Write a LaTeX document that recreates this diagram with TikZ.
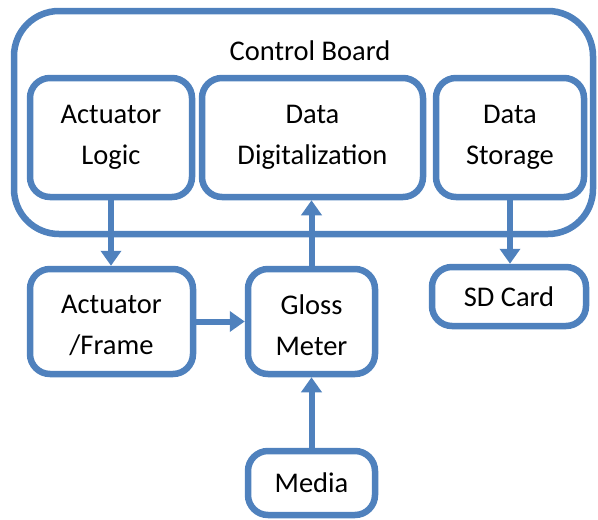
\documentclass[tikz,border=0pt]{standalone}
\usepackage{fontspec}
\setmainfont{Carlito}
\usetikzlibrary{arrows.meta}
\definecolor{boxblue}{HTML}{4F81BD}
\newcommand{\topstrut}{\rule{0pt}{26.5pt}}
\tikzset{
  blk/.style={draw=boxblue, line width=6.5pt, rounded corners=20pt, align=center,
    inner sep=0pt, font=\fontsize{28.5}{41}\selectfont},
  arr/.style={draw=boxblue, line width=6pt, -{Triangle[length=15pt,width=20pt]}}
}
\begin{document}
\begin{tikzpicture}[x=1pt,y=-1pt]
  \useasboundingbox (0,0) rectangle (598,520);
  \node[blk, rounded corners=45pt, minimum width=579pt, minimum height=223pt] (board) at (303.5,122.5) {};
  \node[font=\fontsize{28.5}{41}\selectfont] (boardlabel) at (310,51) {Control Board};

  \node[blk, minimum width=162pt, minimum height=119pt] (logic) at (111,137.5) {Actuator\\Logic};
  \node[blk, minimum width=221pt, minimum height=119pt] (digit) at (312.5,137.5) {Data\\Digitalization};
  \node[blk, minimum width=148pt, minimum height=119pt] (storage) at (510,137.5) {Data\\Storage};

  \node[blk, minimum width=163pt, minimum height=105pt] (frame) at (111.5,321.5) {\topstrut Actuator\\/Frame};
  \node[blk, minimum width=127pt, minimum height=105pt] (gloss) at (311.5,321.5) {\topstrut Gloss\\Meter};
  \node[blk, minimum width=154pt, minimum height=59pt] (sd) at (509,296.5) {SD Card};
  \node[blk, minimum width=127pt, minimum height=64pt] (media) at (311.5,483) {Media};

  \draw[arr] (logic.south) -- (logic.south |- frame.north);
  \draw[arr] (frame.east) -- (gloss.west);
  \draw[arr] (gloss.north) -- (gloss.north |- digit.south);
  \draw[arr] (media.north) -- (gloss.south);
  \draw[arr] (storage.south) -- (storage.south |- sd.north);
\end{tikzpicture}
\end{document}
